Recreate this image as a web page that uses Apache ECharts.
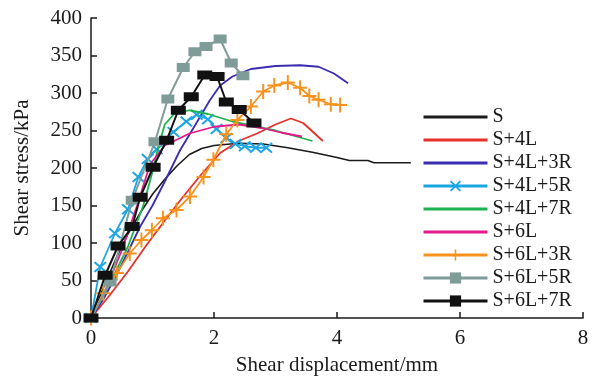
<!DOCTYPE html>
<html>
<head>
<meta charset="utf-8">
<script src="https://cdn.jsdelivr.net/npm/echarts@6/dist/echarts.min.js"></script>
<style>html,body{margin:0;padding:0;background:#fff}#c{width:599px;height:382px}</style>
</head>
<body>
<div id="c"></div>
<script>
// ---- data ----
const seriesNames = ['S','S+4L','S+4L+3R','S+4L+5R','S+4L+7R','S+6L','S+6L+3R','S+6L+5R','S+6L+7R'];
const xTicks = [0,2,4,6,8];
const yTicks = [0,50,100,150,200,250,300,350,400];

const sX   = [0,0.2,0.4,0.6,0.8,1.0,1.2,1.4,1.6,1.8,2.0,2.4,2.8,3.2,3.6,4.0,4.2,4.5,4.6,5.2];
const sY   = [0,40,78,112,140,165,185,203,218,226,230,233,232,227,221,214,210,210,207,207];

const s4lX = [0,0.3,0.6,0.9,1.2,1.5,1.8,2.1,2.4,2.7,3.0,3.25,3.45,3.77];
const s4lY = [0,30,62,97,130,162,192,220,236,246,258,266,260,236];

const s4l3rX = [0,0.2,0.4,0.6,0.8,1.0,1.2,1.45,1.7,1.93,2.1,2.3,2.6,3.0,3.4,3.7,3.95,4.18];
const s4l3rY = [0,25,55,88,122,150,182,224,258,290,310,322,332,336,337,335,326,313];

const s4l5rX = [0,0.15,0.39,0.6,0.77,0.92,1.07,1.34,1.55,1.72,1.9,2.04,2.2,2.35,2.5,2.68,2.85];
const s4l5rY = [0,68,113,145,188,212,225,248,262,271,265,252,240,232,229,227,227];

const s4l7rX = [0,0.3,0.6,0.85,1.0,1.1,1.2,1.35,1.6,1.9,2.3,2.7,3.0,3.3,3.6];
const s4l7rY = [0,45,95,150,195,230,258,272,277,272,262,255,250,243,236];

const s6lX = [0,0.25,0.5,0.75,0.96,1.2,1.6,2.0,2.4,2.8,3.1,3.43];
const s6lY = [0,40,90,150,205,230,246,255,258,253,247,242];

const s6l3rX = [0,0.2,0.42,0.63,0.82,0.99,1.17,1.39,1.61,1.83,1.99,2.2,2.38,2.6,2.8,2.98,3.2,3.4,3.55,3.7,3.9,4.05];
const s6l3rY = [0,33,60,86,104,117,133,144,162,188,211,245,264,282,302,310,314,307,296,291,285,284];

const s6l5rX = [0,0.31,0.67,1.04,1.25,1.5,1.69,1.87,2.1,2.28,2.47];
const s6l5rY = [0,48,157,235,292,334,355,362,372,340,323];

const s6l7rX = [0,0.23,0.44,0.67,0.8,1.01,1.23,1.42,1.63,1.85,2.05,2.2,2.41,2.65];
const s6l7rY = [0,57,96,122,161,201,237,277,295,324,322,288,278,260];

// ---- build ----
const zip = (xs, ys) => xs.map((x, i) => [x, ys[i]]);
const FONT = 'Liberation Serif';
const X_PATH = 'path://M0,1.2L1.2,0L5,3.8L8.8,0L10,1.2L6.2,5L10,8.8L8.8,10L5,6.2L1.2,10L0,8.8L3.8,5Z';
const PLUS_PATH = 'path://M5.6,0H7.4V5.6H13V7.4H7.4V13H5.6V7.4H0V5.6H5.6Z';

const defs = [
  {x:sX, y:sY, color:'#1a1a1a', width:1.6, symbol:'none'},
  {x:s4lX, y:s4lY, color:'#e8302a', width:1.8, symbol:'none'},
  {x:s4l3rX, y:s4l3rY, color:'#3a2cb0', width:1.8, symbol:'none'},
  {x:s4l5rX, y:s4l5rY, color:'#1ba6e2', width:1.8, symbol:X_PATH, size:[13,11]},
  {x:s4l7rX, y:s4l7rY, color:'#1cb24e', width:1.8, symbol:'none'},
  {x:s6lX, y:s6lY, color:'#e6198c', width:1.8, symbol:'none'},
  {x:s6l3rX, y:s6l3rY, color:'#f7921e', width:1.8, symbol:PLUS_PATH, size:[14,15]},
  {x:s6l5rX, y:s6l5rY, color:'#7f9c98', width:2, symbol:'rect', size:[13,9]},
  {x:s6l7rX, y:s6l7rY, color:'#111111', width:2, symbol:'rect', size:[15,9]}
];

const series = defs.map((d, i) => {
  const plain = d.symbol === 'none';
  return {
    name: seriesNames[i],
    type: 'line',
    data: zip(d.x, d.y),
    symbol: plain ? 'circle' : d.symbol,
    symbolSize: plain ? 1 : d.size,
    showSymbol: !plain,
    lineStyle: {color: d.color, width: d.width},
    itemStyle: {color: plain ? 'rgba(0,0,0,0)' : d.color},
    emphasis: {disabled: true},
    animation: false,
    z: 2 + i
  };
});

const chart = echarts.init(document.getElementById('c'), null, {renderer: 'canvas'});
chart.setOption({
  backgroundColor: '#fff',
  animation: false,
  grid: {left: 91, right: 16, top: 18, bottom: 64},
  legend: {
    orient: 'vertical',
    left: 422, top: 107,
    itemWidth: 64, itemHeight: 14, itemGap: 3,
    padding: 0,
    data: seriesNames,
    lineStyle: {width: 3},
    textStyle: {fontFamily: FONT, fontSize: 20, color: '#1a1a1a'}
  },
  xAxis: {
    type: 'value', min: xTicks[0], max: xTicks[xTicks.length-1], interval: 2,
    name: 'Shear displacement/mm', nameLocation: 'middle', nameGap: 37,
    nameTextStyle: {fontFamily: FONT, fontSize: 21, color: '#1a1a1a'},
    axisLine: {lineStyle: {color: '#1a1a1a', width: 1.5}},
    axisTick: {inside: true, length: 6, lineStyle: {color: '#1a1a1a', width: 1.5}},
    axisLabel: {fontFamily: FONT, fontSize: 21, color: '#1a1a1a', margin: 10},
    splitLine: {show: false}
  },
  yAxis: {
    type: 'value', min: yTicks[0], max: yTicks[yTicks.length-1], interval: 50,
    name: 'Shear stress/kPa', nameLocation: 'middle', nameGap: 58,
    nameTextStyle: {fontFamily: FONT, fontSize: 21, color: '#1a1a1a'},
    axisLine: {show: true, lineStyle: {color: '#1a1a1a', width: 1.5}},
    axisTick: {show: true, inside: true, length: 6, lineStyle: {color: '#1a1a1a', width: 1.5}},
    axisLabel: {fontFamily: FONT, fontSize: 21, color: '#1a1a1a', margin: 9},
    splitLine: {show: false}
  },
  series: series
});
</script>
</body>
</html>
